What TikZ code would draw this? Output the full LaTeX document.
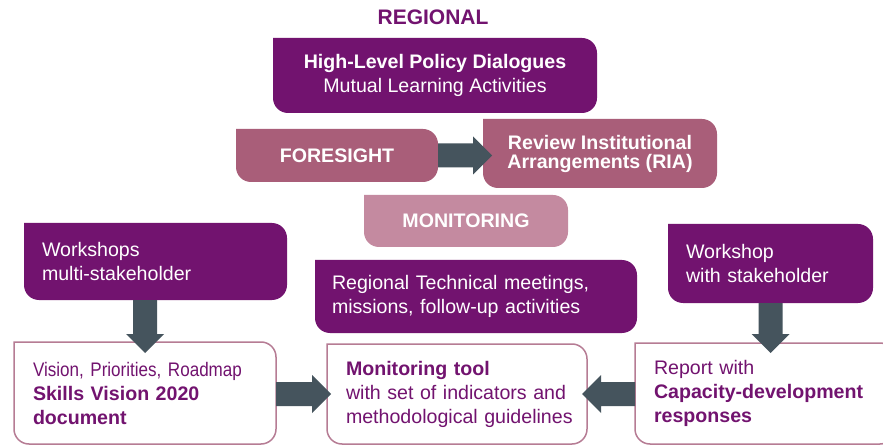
\documentclass[tikz,border=0pt]{standalone}
\usepackage{fontspec}
\setmainfont{Liberation Sans}
\newfontfamily\narrowfont[FakeStretch=0.87]{Liberation Sans}
\usetikzlibrary{calc,backgrounds}

\definecolor{plum}{RGB}{114,19,111}
\definecolor{rosewood}{RGB}{169,94,121}
\definecolor{lightrose}{RGB}{196,138,160}
\definecolor{slate}{RGB}{69,84,93}
\definecolor{rimrose}{RGB}{182,124,148}

% box outline: square top-left corner, the other three rounded
\newcommand\leafshape[2]{%
  \path[#2] (#1.north west) -- ([xshift=-15pt]#1.north east)
    arc[start angle=90,end angle=0,radius=15pt]
    -- ([yshift=15pt]#1.south east)
    arc[start angle=0,end angle=-90,radius=15pt]
    -- ([xshift=15pt]#1.south west)
    arc[start angle=270,end angle=180,radius=15pt]
    -- cycle;}

% broad block arrow from #1 to the tip #2
\newcommand\fatarrow[2]{%
  \coordinate (fa-base) at ($(#2)!19pt!(#1)$);
  \fill[slate] ($(#1)!12pt!90:(#2)$) -- ($(fa-base)!12pt!-90:(#1)$)
    -- ($(fa-base)!19pt!-90:(#1)$) -- (#2)
    -- ($(fa-base)!19pt!90:(#1)$) -- ($(fa-base)!12pt!90:(#1)$)
    -- ($(#1)!12pt!-90:(#2)$) -- cycle;}

\begin{document}
\begin{tikzpicture}[x=1pt,y=1pt,
  every node/.style={inner sep=0pt, outer sep=0pt, anchor=north west,
    font=\fontsize{19.6}{24}\selectfont},
  centrebox/.style={align=center, text=white},
  heavy/.style={font=\fontsize{19.6}{24}\selectfont\bfseries},
  leftbox/.style={align=left, inner xsep=18pt}]

\useasboundingbox (0,0) rectangle (883,-446);

\node[font=\fontsize{21}{24}\selectfont\bfseries, text=plum, anchor=base] (title) at (433,-25) {REGIONAL};

\node[centrebox, minimum width=324pt, minimum height=75pt] (hlpd) at (273,-38)
  {\textbf{High-Level Policy Dialogues}\\Mutual Learning Activities};
\node[centrebox, heavy, minimum width=202pt, minimum height=53pt] (fore) at (236,-129) {FORESIGHT};
\node[centrebox, font=\fontsize{19.6}{19}\selectfont\bfseries, minimum width=234pt, minimum height=69pt] (ria) at (483,-119)
  {Review Institutional\\Arrangements (RIA)};
\node[centrebox, heavy, minimum width=204pt, minimum height=52pt] (moni) at (364,-195) {MONITORING};

\node[leftbox, text=white, text width=227pt, minimum height=77pt] (ws1) at (24,-223)
  {Workshops\\multi-stakeholder};
\node[leftbox, text=white, inner xsep=17pt, text width=288pt, minimum height=73pt] (rtm) at (315,-260)
  {\mbox{Regional Technical meetings,}\\\mbox{missions, follow-up activities}};
\node[leftbox, text=white, text width=169pt, minimum height=79pt] (ws2) at (668,-224)
  {Workshop\\with stakeholder};

\node[leftbox, text=plum, inner xsep=19pt, text width=224pt, minimum height=102pt] (vis) at (14,-342)
  {\mbox{\narrowfont Vision, Priorities, Roadmap}\\\textbf{Skills Vision 2020}\\\textbf{document}};
\node[leftbox, text=plum, inner xsep=19pt, text width=222pt, minimum height=100pt] (tool) at (327,-344)
  {\textbf{Monitoring tool}\\\mbox{with set of indicators and}\\\mbox{methodological guidelines}};
\node[leftbox, text=plum, inner xsep=19pt, text width=222pt, minimum height=101pt] (rep) at (635,-343)
  {Report with\\\mbox{\textbf{Capacity-development}}\\\textbf{responses}};

\begin{pgfonlayer}{background}
  \fill[white] (0,0) rectangle (883,-446);
  \leafshape{hlpd}{fill=plum}
  \leafshape{fore}{fill=rosewood}
  \leafshape{ria}{fill=rosewood}
  \leafshape{moni}{fill=lightrose}
  \leafshape{ws1}{fill=plum}
  \leafshape{rtm}{fill=plum}
  \leafshape{ws2}{fill=plum}
  \leafshape{vis}{fill=white, draw=rimrose, line width=1.5pt}
  \leafshape{tool}{fill=white, draw=rimrose, line width=1.5pt}
  \leafshape{rep}{fill=white, draw=rimrose, line width=1.5pt}
\end{pgfonlayer}

% block arrows
\coordinate (a1s) at (fore.east);
\coordinate (a1t) at ($(fore.east -| ria.west)+(9,0)$);
\fatarrow{a1s}{a1t}
\coordinate (a2s) at (ws1.south -| vis.north);
\coordinate (a2t) at ($(vis.north)+(0,-11)$);
\fatarrow{a2s}{a2t}
\coordinate (a3s) at (ws2.south);
\coordinate (a3t) at ($(ws2.south |- rep.north)+(0,-10)$);
\fatarrow{a3s}{a3t}
\coordinate (a4s) at (vis.east |- tool.west);
\coordinate (a4t) at ($(tool.west)+(4,0)$);
\fatarrow{a4s}{a4t}
\coordinate (a5s) at (rep.west |- tool.east);
\coordinate (a5t) at ($(tool.east)+(-5,0)$);
\fatarrow{a5s}{a5t}
\end{tikzpicture}
\end{document}
